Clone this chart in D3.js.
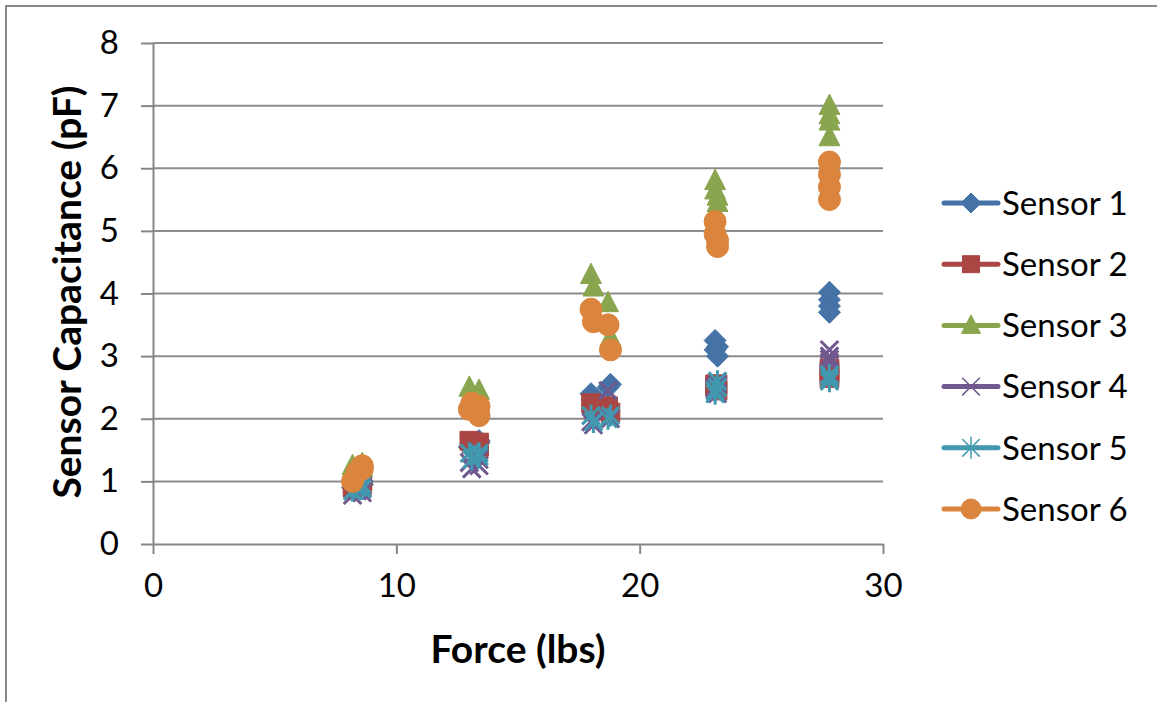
<!DOCTYPE html>
<html>
<head>
<meta charset="utf-8">
<script src="https://cdn.jsdelivr.net/npm/d3@7"></script>
<style>
  html, body { margin: 0; padding: 0; background: #fff; }
  svg { display: block; font-family: Lato, "Open Sans", sans-serif; }
</style>
</head>
<body>
<svg id="chart" width="1157" height="702"></svg>
<script>
// Applied force for each trial (lbs), shared by every sensor
const force = [8.2, 8.4, 8.6, 8.6, 13.0, 13.1, 13.4, 13.4, 18.0, 18.1, 18.7, 18.8,
               23.1, 23.1, 23.2, 23.2, 27.8, 27.8, 27.8, 27.8];

// Measured capacitance (pF) per sensor, one value per trial
const sensor1 = [0.90, 0.95, 1.00, 0.95, 1.55, 1.60, 1.65, 1.62, 2.40, 2.35, 2.50, 2.55,
                 3.25, 3.10, 3.15, 3.00, 4.02, 3.90, 3.80, 3.70];
const sensor2 = [0.90, 0.95, 1.00, 0.95, 1.65, 1.60, 1.62, 1.55, 2.25, 2.15, 2.20, 2.10,
                 2.55, 2.50, 2.45, 2.55, 2.80, 2.75, 2.70, 2.65];
const sensor3 = [1.25, 1.20, 1.28, 1.22, 2.50, 2.40, 2.45, 2.35, 4.30, 4.10, 3.85, 3.30,
                 5.80, 5.65, 5.55, 5.45, 7.00, 6.85, 6.50, 6.75];
const sensor4 = [0.78, 0.85, 0.82, 0.90, 1.30, 1.20, 1.35, 1.25, 1.95, 1.90, 2.45, 2.00,
                 2.45, 2.50, 2.40, 2.55, 3.10, 3.00, 2.90, 2.95];
const sensor5 = [0.85, 0.90, 0.88, 0.95, 1.45, 1.35, 1.40, 1.45, 2.05, 1.95, 2.00, 2.05,
                 2.45, 2.40, 2.50, 2.60, 2.70, 2.65, 2.60, 2.70];
const sensor6 = [1.00, 1.15, 1.25, 1.20, 2.15, 2.25, 2.20, 2.05, 3.75, 3.55, 3.50, 3.10,
                 5.15, 4.95, 4.85, 4.75, 6.10, 5.90, 5.70, 5.50];

const seriesNames = ["Sensor 1", "Sensor 2", "Sensor 3", "Sensor 4", "Sensor 5", "Sensor 6"];
const seriesValues = [sensor1, sensor2, sensor3, sensor4, sensor5, sensor6];
const seriesColors = ["#4572A7", "#AA4643", "#89A54E", "#71588F", "#4198AF", "#DB843D"];
const seriesMarkers = ["diamond", "square", "triangle", "cross", "asterisk", "circle"];

const xTicks = [0, 10, 20, 30];
const yTicks = [0, 1, 2, 3, 4, 5, 6, 7, 8];

const svg = d3.select("#chart");
const W = 1157, H = 702;
const plot = { left: 153, right: 883, top: 43, bottom: 544 };

const x = d3.scaleLinear().domain([0, 30]).range([plot.left, plot.right]);
const y = d3.scaleLinear().domain([0, 8]).range([plot.bottom, plot.top]);

// Chart area frame
svg.append("path")
  .attr("d", `M6,${H} L6,6 L${W},6`)
  .attr("fill", "none").attr("stroke", "#898989").attr("stroke-width", 2);

// Horizontal gridlines
svg.append("g").selectAll("line").data(yTicks.filter(d => d > 0)).join("line")
  .attr("x1", plot.left).attr("x2", plot.right)
  .attr("y1", d => y(d)).attr("y2", d => y(d))
  .attr("stroke", "#8c8c8c").attr("stroke-width", 2);

// Axes
const axisStyle = g => {
  g.select(".domain").attr("stroke", "#868686").attr("stroke-width", 2);
  g.selectAll(".tick line").attr("stroke", "#868686").attr("stroke-width", 2);
  g.selectAll(".tick text").attr("fill", "#000").attr("font-family", "Lato, sans-serif").attr("font-size", 33);
};

svg.append("g")
  .attr("transform", `translate(0,${plot.bottom})`)
  .call(d3.axisBottom(x).tickValues(xTicks).tickSize(10).tickSizeOuter(0).tickPadding(20))
  .call(axisStyle);

svg.append("g")
  .attr("transform", `translate(${plot.left},0)`)
  .call(d3.axisLeft(y).tickValues(yTicks).tickSize(12).tickSizeOuter(0).tickPadding(22))
  .call(axisStyle);

// Marker shapes
function markerPath(kind, s) {
  switch (kind) {
    case "diamond": return `M0,${-s} L${s},0 L0,${s} L${-s},0 Z`;
    case "square": return `M${-s*0.85},${-s*0.85} H${s*0.85} V${s*0.85} H${-s*0.85} Z`;
    case "triangle": return `M0,${-s*1.05} L${s*0.95},${s*0.8} L${-s*0.95},${s*0.8} Z`;
    case "circle": return d3.symbol(d3.symbolCircle, Math.PI * s * s)();
    case "cross": {
      const a = s * 0.8;
      return `M${-a},${-a} L${a},${a} M${a},${-a} L${-a},${a}`;
    }
    case "asterisk": {
      const a = s * 0.8;
      return `M${-a},${-a} L${a},${a} M${a},${-a} L${-a},${a} M0,${-s} L0,${s}`;
    }
  }
}
const isLineMarker = k => k === "cross" || k === "asterisk";

function drawMarker(sel, kind, color, s, lw) {
  sel.append("path")
    .attr("d", markerPath(kind, s))
    .attr("fill", isLineMarker(kind) ? "none" : color)
    .attr("stroke", color)
    .attr("stroke-width", isLineMarker(kind) ? lw : 1)
    .attr("stroke-linejoin", "round");
}

// Points for each sensor, drawn in series order
seriesValues.forEach((vals, i) => {
  const g = svg.append("g").attr("class", "series-" + (i + 1));
  vals.forEach((v, j) => {
    const p = g.append("g").attr("transform", `translate(${x(force[j])},${y(v)})`);
    drawMarker(p, seriesMarkers[i], seriesColors[i], 11, 3);
  });
});

// Axis titles
svg.append("text")
  .attr("x", 518)
  .attr("y", 663)
  .attr("text-anchor", "middle")
  .attr("font-weight", "bold").attr("font-size", 39)
  .text("Force (lbs)");

svg.append("text")
  .attr("transform", `translate(81,292) rotate(-90)`)
  .attr("text-anchor", "middle")
  .attr("font-weight", "bold").attr("font-size", 39)
  .text("Sensor Capacitance (pF)");

// Legend
const legend = svg.append("g");
seriesNames.forEach((name, i) => {
  const ly = 203 + i * 61.2;
  const g = legend.append("g").attr("transform", `translate(0,${ly})`);
  g.append("line")
    .attr("x1", 944).attr("x2", 998).attr("y1", 0).attr("y2", 0)
    .attr("stroke", seriesColors[i]).attr("stroke-width", 5).attr("stroke-linecap", "round");
  const m = g.append("g").attr("transform", "translate(971,0)");
  drawMarker(m, seriesMarkers[i], seriesColors[i], isLineMarker(seriesMarkers[i]) ? 11 : 10, 1.5);
  g.append("text")
    .attr("x", 1002).attr("y", 0).attr("dy", "0.36em")
    .attr("font-size", 33)
    .text(name);
});
</script>
</body>
</html>
